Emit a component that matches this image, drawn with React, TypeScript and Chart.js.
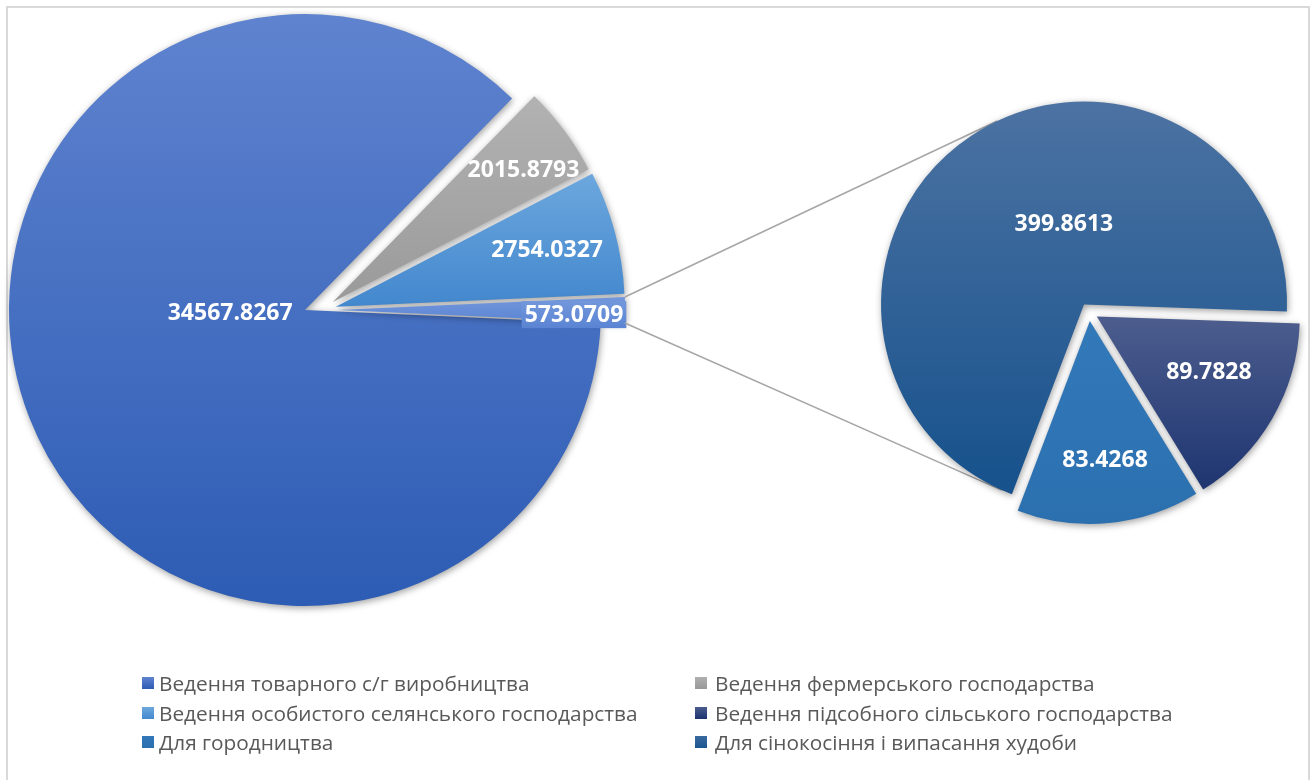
import React, { useEffect, useRef } from 'react';
import { Chart, registerables, ArcElement } from 'chart.js';

Chart.register(...registerables);

// ---------- data ----------
const mainLabels = [
  'Ведення товарного с/г виробництва',
  'Ведення фермерського господарства',
  'Ведення особистого селянського господарства',
];
const mainValues = [34567.8267, 2015.8793, 2754.0327];
const subLabels = [
  'Ведення підсобного сільського господарства',
  'Для городництва',
  'Для сінокосіння і випасання худоби',
];
const subValues = [89.7828, 83.4268, 399.8613];
const otherValue = subValues.reduce((s, v) => s + v, 0);
const mainSeries = [...mainValues, otherValue];
const mainTotal = mainSeries.reduce((s, v) => s + v, 0);

// ---------- style ----------
const PAGE_W = 1314;
const PAGE_H = 780;
const MAIN_GEOM = { cx: 305, cy: 310, r: 296 };
const SUB_GEOM = { cx: 1089, cy: 312, r: 203 };
// [explosion distance px, direction deg from top (null = slice middle), radius scale]
const mainExplode: [number, number | null, number][] = [
  [0, null, 1],
  [29, 74, 0.973],
  [31, 84, 0.976],
  [33, 90, 0.97],
];
const subExplode: [number, number | null, number][] = [
  [9, null, 1],
  [9, null, 1],
  [9, null, 1],
];
const SUB_ROTATION = 92;

const mainColors: [string, string][] = [
  ['#5F83CF', '#2D5CB4'],
  ['#B3B3B3', '#9B9B9B'],
  ['#6DA8DE', '#4488CE'],
  ['#7397DC', '#5A84D3'],
];
const subColors: [string, string][] = [
  ['#4B5C8D', '#1D3470'],
  ['#3279BA', '#2B6FAE'],
  ['#4D73A3', '#17528C'],
];
// [angle shift from slice middle (deg), fraction of radius]
const mainLabelPos: [number, number][] = [[20, 0.253], [1.6, 0.807], [-0.3, 0.758], [1, 0.822]];
const subLabelPos: [number, number][] = [[-4.3, 0.614], [-0.9, 0.684], [19.6, 0.41]];

const DEG = Math.PI / 180;

function arcGeom(arc: any, ex: [number, number | null, number]) {
  const mid = (arc.startAngle + arc.endAngle) / 2;
  const dirCanvas = ex[1] === null ? mid : (ex[1] - 90) * DEG;
  return {
    tx: arc.x + Math.cos(dirCanvas) * ex[0],
    ty: arc.y + Math.sin(dirCanvas) * ex[0],
    dx: Math.cos(dirCanvas) * ex[0],
    dy: Math.sin(dirCanvas) * ex[0],
    r: arc.outerRadius * ex[2],
    mid,
    start: arc.startAngle,
    end: arc.endAngle,
  };
}

function makeSlicePlugin(
  colors: [string, string][],
  explode: [number, number | null, number][],
  labelPos: [number, number][],
  boxed: number[],
) {
  return {
    id: 'sliceStyle',
    beforeDatasetsDraw(chart: any) {
      const ctx = chart.ctx as CanvasRenderingContext2D;
      const meta = chart.getDatasetMeta(0);
      meta.data.forEach((arc: any, i: number) => {
        if (!arc.__exploded) {
          arc.__exploded = true;
          arc.draw = function (c: CanvasRenderingContext2D) {
            const g = arcGeom(this, explode[i]);
            const saved = this.outerRadius;
            c.save();
            c.translate(g.dx, g.dy);
            this.outerRadius = g.r;
            ArcElement.prototype.draw.call(this, c);
            this.outerRadius = saved;
            c.restore();
          };
        }
        const g = arcGeom(arc, explode[i]);
        let y0 = g.ty;
        let y1 = g.ty;
        for (let k = 0; k <= 90; k++) {
          const a = g.start + ((g.end - g.start) * k) / 90;
          const y = g.ty + Math.sin(a) * g.r;
          y0 = Math.min(y0, y);
          y1 = Math.max(y1, y);
        }
        const grad = ctx.createLinearGradient(0, y0, 0, y1);
        grad.addColorStop(0, colors[i][0]);
        grad.addColorStop(1, colors[i][1]);
        arc.options.backgroundColor = grad;
      });
      ctx.save();
      ctx.shadowColor = 'rgba(0,0,0,0.38)';
      ctx.shadowBlur = 7;
      ctx.shadowOffsetX = 1;
      ctx.shadowOffsetY = 2;
    },
    afterDatasetsDraw(chart: any) {
      const ctx = chart.ctx as CanvasRenderingContext2D;
      ctx.restore();
      const meta = chart.getDatasetMeta(0);
      const values = chart.data.datasets[0].data as number[];
      ctx.save();
      ctx.font = 'bold 23px "Open Sans"';
      ctx.textAlign = 'center';
      ctx.textBaseline = 'middle';
      meta.data.forEach((arc: any, i: number) => {
        const g = arcGeom(arc, explode[i]);
        const a = g.mid + labelPos[i][0] * DEG;
        const x = g.tx + Math.cos(a) * g.r * labelPos[i][1];
        const y = g.ty + Math.sin(a) * g.r * labelPos[i][1];
        const text = values[i].toFixed(4);
        if (boxed.includes(i)) {
          const w = ctx.measureText(text).width;
          const bg = ctx.createLinearGradient(0, y - 13, 0, y + 14);
          bg.addColorStop(0, colors[i][0]);
          bg.addColorStop(1, colors[i][1]);
          ctx.fillStyle = bg;
          ctx.fillRect(x - w / 2 - 3, y - 13, w + 6, 27);
        }
        ctx.fillStyle = '#FFFFFF';
        ctx.fillText(text, x, y + 1);
      });
      ctx.restore();
    },
  };
}

function tangentPoint(px: number, py: number, cx: number, cy: number, r: number, upper: boolean) {
  const d = Math.hypot(px - cx, py - cy);
  const phi = Math.atan2(py - cy, px - cx);
  const al = Math.acos(Math.min(1, r / d));
  const a1 = phi + al;
  const a2 = phi - al;
  const y1 = cy + Math.sin(a1) * r;
  const y2 = cy + Math.sin(a2) * r;
  const a = upper ? (y1 < y2 ? a1 : a2) : (y1 < y2 ? a2 : a1);
  return { x: cx + Math.cos(a) * r, y: cy + Math.sin(a) * r };
}

function makeConnectorPlugin(holder: { main: any }) {
  return {
    id: 'connectors',
    beforeDatasetsDraw(chart: any) {
      const main = holder.main;
      if (!main) return;
      const mMeta = main.getDatasetMeta(0);
      const oi = mMeta.data.length - 1;
      const other = mMeta.data[oi];
      const sMeta = chart.getDatasetMeta(0);
      let bi = 0;
      sMeta.data.forEach((a: any, i: number) => {
        if (a.circumference > sMeta.data[bi].circumference) bi = i;
      });
      const big = sMeta.data[bi];
      if (!other || !big) return;
      const go = arcGeom(other, mainExplode[oi]);
      const gb = arcGeom(big, subExplode[bi]);
      const p1 = { x: go.tx + Math.cos(go.start) * go.r, y: go.ty + Math.sin(go.start) * go.r };
      const p2 = { x: go.tx + Math.cos(go.end) * go.r, y: go.ty + Math.sin(go.end) * go.r };
      const top = p1.y < p2.y ? p1 : p2;
      const bot = p1.y < p2.y ? p2 : p1;
      const t1 = tangentPoint(top.x, top.y, gb.tx, gb.ty, gb.r, true);
      const t2 = tangentPoint(bot.x, bot.y, gb.tx, gb.ty, gb.r, false);
      const ctx = chart.ctx as CanvasRenderingContext2D;
      ctx.save();
      ctx.strokeStyle = '#A6A6A6';
      ctx.lineWidth = 1.5;
      ctx.beginPath();
      ctx.moveTo(top.x, top.y);
      ctx.lineTo(t1.x, t1.y);
      ctx.moveTo(bot.x, bot.y);
      ctx.lineTo(t2.x, t2.y);
      ctx.stroke();
      ctx.restore();
    },
  };
}

function padFor(g: { cx: number; cy: number; r: number }) {
  return { left: g.cx - g.r, right: PAGE_W - g.cx - g.r, top: g.cy - g.r, bottom: PAGE_H - g.cy - g.r };
}

const legendItems = [
  { label: mainLabels[0], color: mainColors[0] },
  { label: mainLabels[1], color: ['#B0B0B0', '#989898'] as [string, string] },
  { label: mainLabels[2], color: mainColors[2] },
  { label: subLabels[0], color: subColors[0] },
  { label: subLabels[1], color: subColors[1] },
  { label: subLabels[2], color: ['#3A6A9E', '#1B5690'] as [string, string] },
];
const legendSwatchX = [142, 695];
const legendTextX = [159, 715];
const legendRowY = [683, 713, 742];

export default function App() {
  const mainRef = useRef<HTMLCanvasElement>(null);
  const subRef = useRef<HTMLCanvasElement>(null);

  useEffect(() => {
    const holder: { main: any } = { main: null };
    const mainChart = new Chart(mainRef.current as HTMLCanvasElement, {
      type: 'pie',
      data: {
        labels: [...mainLabels, 'Інші'],
        datasets: [
          {
            data: mainSeries,
            backgroundColor: mainColors.map((c) => c[0]),
            borderWidth: 0,
          },
        ],
      },
      options: {
        responsive: false,
        animation: false,
        events: [],
        rotation: 90 + (180 * otherValue) / mainTotal,
        radius: MAIN_GEOM.r,
        layout: { padding: padFor(MAIN_GEOM) },
        plugins: { legend: { display: false }, tooltip: { enabled: false } },
      } as any,
      plugins: [makeSlicePlugin(mainColors, mainExplode, mainLabelPos, [3]) as any],
    });
    holder.main = mainChart;
    const subChart = new Chart(subRef.current as HTMLCanvasElement, {
      type: 'pie',
      data: {
        labels: subLabels,
        datasets: [
          {
            data: subValues,
            backgroundColor: subColors.map((c) => c[0]),
            borderWidth: 0,
          },
        ],
      },
      options: {
        responsive: false,
        animation: false,
        events: [],
        rotation: SUB_ROTATION,
        radius: SUB_GEOM.r,
        layout: { padding: padFor(SUB_GEOM) },
        plugins: { legend: { display: false }, tooltip: { enabled: false } },
      } as any,
      plugins: [
        makeConnectorPlugin(holder) as any,
        makeSlicePlugin(subColors, subExplode, subLabelPos, []) as any,
      ],
    });
    return () => {
      subChart.destroy();
      mainChart.destroy();
    };
  }, []);

  return (
    <div
      style={{
        position: 'fixed',
        left: 0,
        top: 0,
        width: PAGE_W,
        height: PAGE_H,
        overflow: 'hidden',
        background: '#FFFFFF',
      }}
    >
      <div
        style={{
          position: 'absolute',
          left: 6,
          top: 6,
          width: 1300,
          height: 820,
          border: '2px solid #D9D9D9',
        }}
      />
      <canvas
        ref={mainRef}
        width={PAGE_W}
        height={PAGE_H}
        style={{ position: 'absolute', left: 0, top: 0, width: PAGE_W, height: PAGE_H }}
      />
      <canvas
        ref={subRef}
        width={PAGE_W}
        height={PAGE_H}
        style={{ position: 'absolute', left: 0, top: 0, width: PAGE_W, height: PAGE_H }}
      />
      {legendItems.map((it, i) => {
        const col = i % 2;
        const row = Math.floor(i / 2);
        return (
          <React.Fragment key={i}>
            <div
              style={{
                position: 'absolute',
                left: legendSwatchX[col],
                top: legendRowY[row] - 6,
                width: 12,
                height: 12,
                background: `linear-gradient(${it.color[0]}, ${it.color[1]})`,
              }}
            />
            <div
              style={{
                position: 'absolute',
                left: legendTextX[col],
                top: legendRowY[row] - 14,
                height: 28,
                lineHeight: '28px',
                fontFamily: '"Open Sans", sans-serif',
                fontSize: 20.8,
                color: '#595959',
                whiteSpace: 'nowrap',
              }}
            >
              {it.label}
            </div>
          </React.Fragment>
        );
      })}
    </div>
  );
}
